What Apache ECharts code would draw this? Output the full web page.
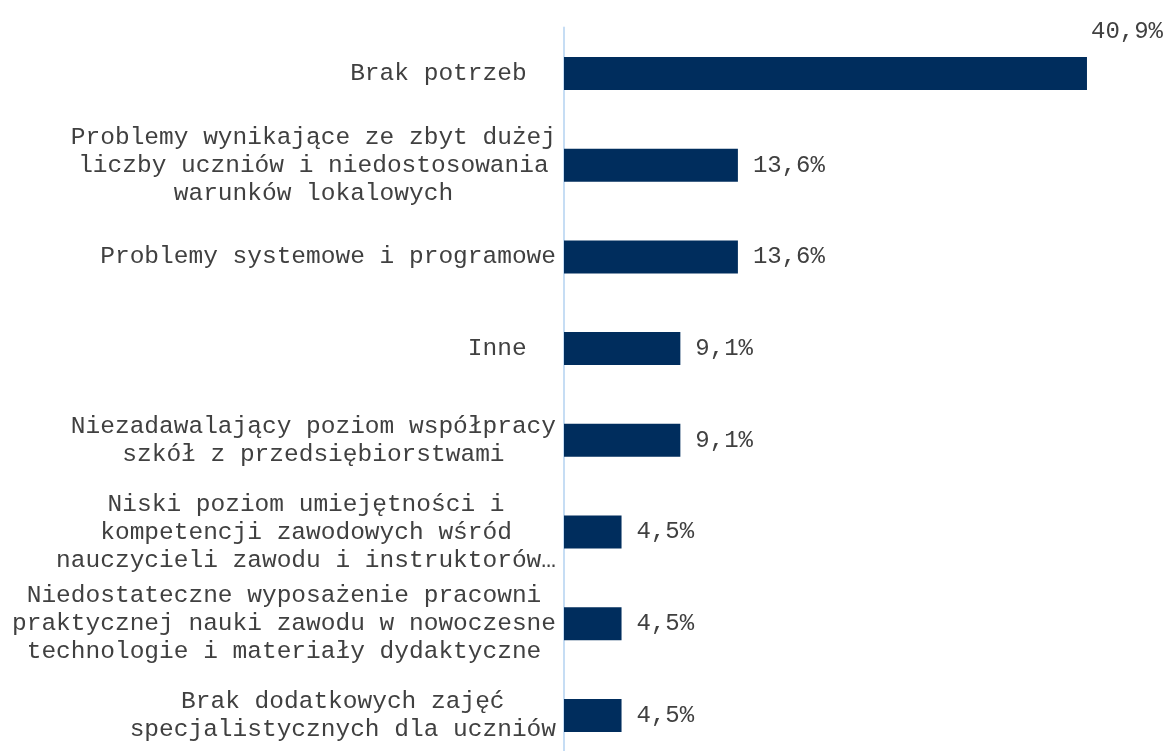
<!DOCTYPE html>
<html>
<head>
<meta charset="utf-8">
<script src="https://cdn.jsdelivr.net/npm/echarts@6/dist/echarts.min.js"></script>
<style>
html,body{margin:0;padding:0;background:#fff;overflow:hidden;width:1164px;height:751px;}
#chart{width:1164px;height:770px;}
</style>
</head>
<body>
<div id="chart"></div>
<script>
var categories = [
  'Brak potrzeb  ',
  'Problemy wynikające ze zbyt dużej\nliczby uczniów i niedostosowania\nwarunków lokalowych',
  'Problemy systemowe i programowe',
  'Inne  ',
  'Niezadawalający poziom współpracy\nszkół z przedsiębiorstwami',
  'Niski poziom umiejętności i\nkompetencji zawodowych wśród\nnauczycieli zawodu i instruktorów…',
  'Niedostateczne wyposażenie pracowni\npraktycznej nauki zawodu w nowoczesne\ntechnologie i materiały dydaktyczne',
  'Brak dodatkowych zajęć\nspecjalistycznych dla uczniów'
];
var values = [40.9, 13.6, 13.6, 9.1, 9.1, 4.5, 4.5, 4.5];

var FONT = '"Liberation Mono", "Courier New", monospace';
var TXT = '#404040';

var chart = echarts.init(document.getElementById('chart'));
var seriesData = values.map(function (v, i) {
  if (i === 0) {
    return { value: v, label: { distance: 4, offset: [0, -42] } };
  }
  return v;
});

chart.setOption({
  animation: false,
  grid: { left: 564, top: 27.6, width: 575.4, height: 733.7, containLabel: false },
  xAxis: {
    type: 'value', min: 0, max: 45, show: false
  },
  yAxis: {
    type: 'category',
    inverse: true,
    data: categories,
    axisTick: { show: false },
    axisLine: { show: true, lineStyle: { color: '#c6ddf4', width: 2 } },
    axisLabel: {
      margin: 8,
      align: 'right',
      fontFamily: FONT,
      fontSize: 24.5,
      lineHeight: 28,
      color: TXT,
      formatter: function (val) {
        return val.split('\n').map(function (l) { return '{c|' + l + '}'; }).join('\n');
      },
      rich: {
        c: { align: 'center', fontFamily: FONT, fontSize: 24.5, lineHeight: 28, color: TXT }
      }
    }
  },
  series: [{
    type: 'bar',
    data: seriesData,
    barWidth: 33,
    itemStyle: { color: '#002d5d' },
    label: {
      show: true,
      position: 'right',
      distance: 15,
      fontFamily: FONT,
      fontSize: 24,
      color: TXT,
      formatter: function (p) { return p.value.toFixed(1).replace('.', ',') + '%'; }
    }
  }]
});
</script>
</body>
</html>
